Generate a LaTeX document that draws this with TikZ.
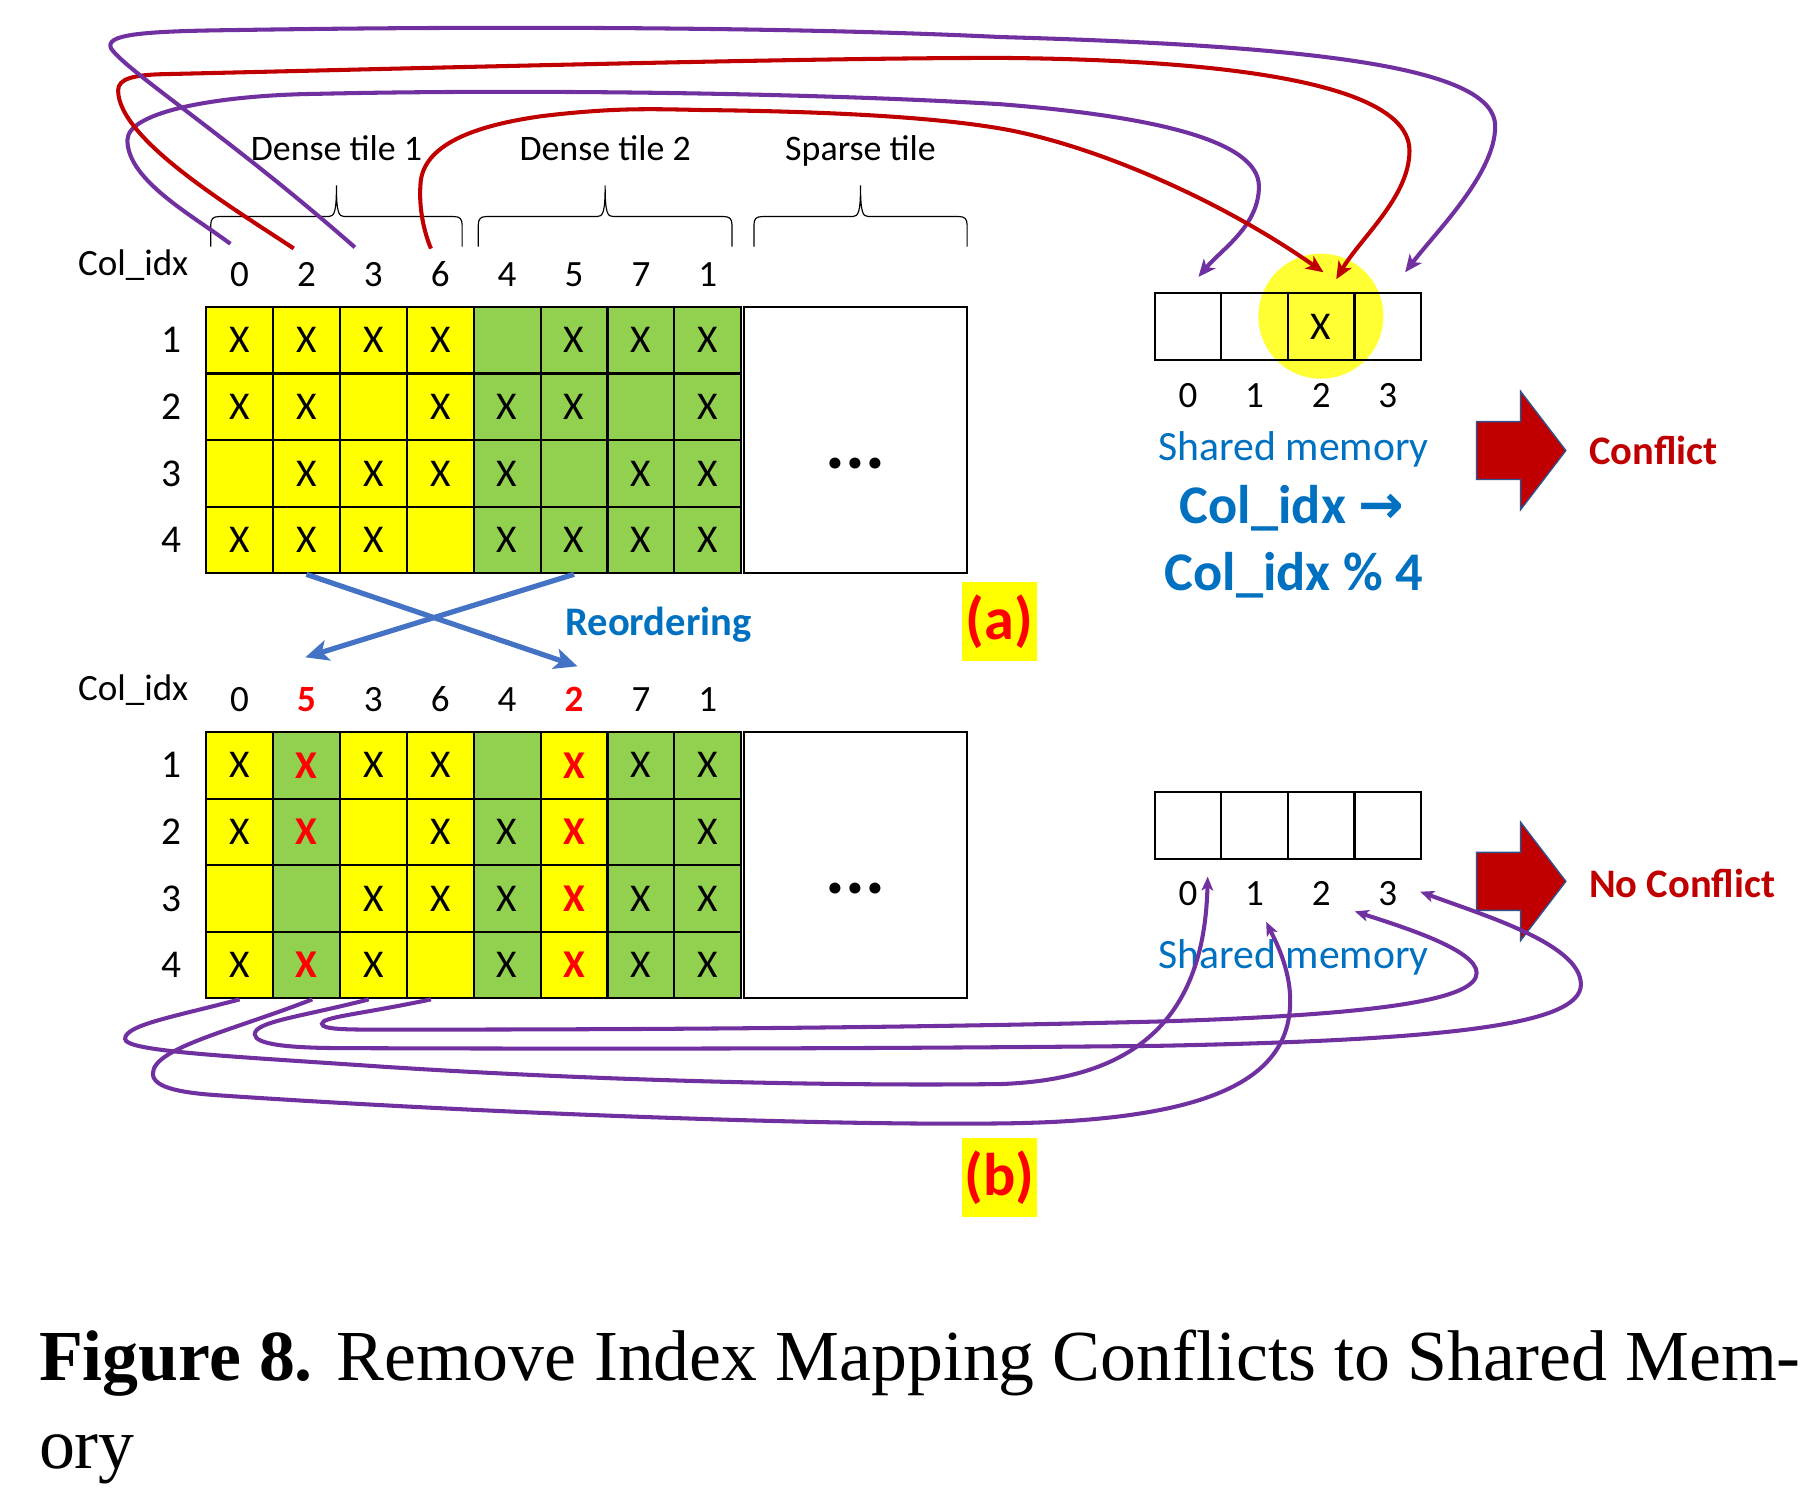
\documentclass[tikz,border=0pt]{standalone}
\usepackage{fontspec}
\setmainfont{Carlito}
\newfontfamily\capfont{Liberation Serif}
\newfontfamily\symfont{DejaVu Sans}
\usetikzlibrary{arrows.meta,positioning}

\definecolor{tY}{HTML}{FFFF00}
\definecolor{tG}{HTML}{92D050}
\definecolor{xred}{HTML}{FF0000}
\definecolor{dred}{HTML}{C00000}
\definecolor{vio}{HTML}{7030A0}
\definecolor{mblue}{HTML}{0070C0}
\definecolor{rblue}{HTML}{4472C4}
\definecolor{aedge}{HTML}{2F528F}

\newcommand\cellmark[1]{\ifcase#1\or X\or\textbf{\textcolor{xred}{X}}\fi}
\newcommand\tilebrace[3]{%
  \pgfmathsetmacro\bm{(#1+#2)/2}
  \coordinate (#3) at (\bm,160);
  \draw[brc] (#1,213) -- (#1,194) .. controls (#1,189) and (#1+2,187) .. (#1+7,187)
    -- (\bm-7,187) .. controls (\bm-2,187) and (\bm,184) .. (#3)
    .. controls (\bm,184) and (\bm+2,187) .. (\bm+7,187)
    -- (#2-7,187) .. controls (#2-2,187) and (#2,189) .. (#2,194) -- (#2,213);}
\newcommand\blockarrow[1]{%
  \draw[bigarrow] (#1) ++(0,-25) -- ++(38,0) -- ++(0,-26) -- ++(39,51)
    -- ++(-39,51) -- ++(0,-26) -- ++(-38,0) -- cycle;}

\tikzset{
  cell/.style={draw, line width=1.8pt, minimum width=57.75pt, minimum height=57.5pt,
    inner sep=0pt, font=\fontsize{34}{34}\selectfont},
  idx/.style={inner sep=0pt, font=\fontsize{32}{32}\selectfont},
  slot/.style={draw, line width=1.8pt, minimum width=57.5pt, minimum height=58pt,
    inner sep=0pt, font=\fontsize{34}{34}\selectfont},
  sparse/.style={draw, fill=white, line width=1.8pt, minimum width=193pt,
    minimum height=230pt, inner sep=0pt},
  dots/.style={inner sep=0pt, font=\fontsize{64}{64}\selectfont\bfseries},
  brc/.style={line width=1pt},
  tilelabel/.style={anchor=base, inner sep=0pt, font=\fontsize{31}{31}\selectfont},
  map/.style={line width=3.5pt, -{Stealth[length=15pt,width=13pt,inset=4pt]}},
  mapb/.style={map, -{Stealth[length=12pt,width=10pt,inset=3pt]}},
  reorder/.style={rblue, line width=4.5pt, -{Stealth[length=20pt,width=18pt,inset=5pt]}},
  smem/.style={mblue, anchor=base, inner sep=0pt, font=\fontsize{36}{36}\selectfont},
  rule/.style={mblue, anchor=base, inner sep=0pt, font=\fontsize{47}{47}\selectfont\bfseries},
  verdict/.style={dred, anchor=base west, inner sep=0pt, font=\fontsize{35}{35}\selectfont\bfseries},
  tag/.style={fill=tY, text=xred, inner sep=0pt, minimum width=64pt, minimum height=68pt,
    font=\fontsize{52}{52}\selectfont\bfseries},
  bigarrow/.style={fill=dred, draw=aedge, line width=1.2pt},
  capt/.style={anchor=base west, inner sep=0pt, font=\capfont\fontsize{62}{76}\selectfont},
}

\begin{document}
\begin{tikzpicture}[x=1pt,y=-1pt]
\useasboundingbox[fill=white] (0,0) rectangle (1568,1292);

% (a) original column order
\node[idx, anchor=base] (cola) at (115,237.5) {Col\_idx};
\foreach \t [count=\c from 0] in {0,2,3,6,4,5,7,1}
  \node[idx, anchor=base] (ca-\c) at (206.875+57.75*\c,247.5) {\t};
\foreach \r/\cells in {1/{tY/1,tY/1,tY/1,tY/1,tG/0,tG/1,tG/1,tG/1},
                      2/{tY/1,tY/1,tY/0,tY/1,tG/1,tG/1,tG/0,tG/1},
                      3/{tY/0,tY/1,tY/1,tY/1,tG/1,tG/0,tG/1,tG/1},
                      4/{tY/1,tY/1,tY/1,tY/0,tG/1,tG/1,tG/1,tG/1}}{
  \node[idx, font=\fontsize{34}{34}\selectfont] (ra-\r) at (148,236.25+57.5*\r) {\r};
  \foreach \f/\v [count=\c from 0] in \cells
    \node[cell, fill=\f] (a-\r-\c) at (206.875+57.75*\c,236.25+57.5*\r) {\cellmark{\v}};
}
\node[sparse] (sp-a) at (738.5,380) {};
\node[dots] (dt-a) at (738.5,400) {...};

\tilebrace{182}{399}{bt1}
\tilebrace{413}{632}{bt2}
\tilebrace{651}{835}{bt3}
\node[tilelabel] (tl1) at ([yshift=21pt]bt1) {Dense tile 1};
\node[tilelabel] (tl2) at ([yshift=21pt]bt2) {Dense tile 2};
\node[tilelabel] (tl3) at ([yshift=21pt]bt3) {Sparse tile};

% shared memory, conflict case
\node[circle, fill=tY!80!white, minimum size=108pt, inner sep=0pt] (hl) at (1140.5,273) {};
\foreach \i in {0,...,3}{
  \node[slot] (sa-\i) at (1025.75+57.5*\i,282) {\ifnum\i=2 X\fi};
  \node[idx] (la-\i) at (1025.75+57.5*\i,341.5) {\i};
}
\node[smem] (sma) at (1117,398) {Shared memory};
\node[rule] (rl1) at (1115.5,452) {Col\_idx {\symfont →}};
\node[rule] (rl2) at (1117,509.5) {Col\_idx \% 4};
\coordinate (ka) at (1275,389);
\blockarrow{ka}
\node[verdict] (va) at (1372,401) {Conflict};
\node[tag] (ta) at (863,536.5) {(a)};

% (b) reordered columns
\node[idx, anchor=base] (colb) at (115,604.5) {Col\_idx};
\foreach \t [count=\c from 0] in {0,\textbf{\textcolor{xred}{5}},3,6,4,\textbf{\textcolor{xred}{2}},7,1}
  \node[idx, anchor=base] (cb-\c) at (206.875+57.75*\c,614.5) {\t};
\foreach \r/\cells in {1/{tY/1,tG/2,tY/1,tY/1,tG/0,tY/2,tG/1,tG/1},
                      2/{tY/1,tG/2,tY/0,tY/1,tG/1,tY/2,tG/0,tG/1},
                      3/{tY/0,tG/0,tY/1,tY/1,tG/1,tY/2,tG/1,tG/1},
                      4/{tY/1,tG/2,tY/1,tY/0,tG/1,tY/2,tG/1,tG/1}}{
  \node[idx, font=\fontsize{34}{34}\selectfont] (rb-\r) at (148,603.25+57.5*\r) {\r};
  \foreach \f/\v [count=\c from 0] in \cells
    \node[cell, fill=\f] (b-\r-\c) at (206.875+57.75*\c,603.25+57.5*\r) {\cellmark{\v}};
}
\node[sparse] (sp-b) at (738.5,747) {};
\node[dots] (dt-b) at (738.5,767) {...};

\draw[reorder] (a-4-1.south) -- ([xshift=3pt,yshift=18pt]cb-5.north);
\draw[reorder] (a-4-5.south) -- ([xshift=-1pt,yshift=26pt]cb-1.north);
\node[rule, font=\fontsize{35}{35}\selectfont\bfseries] (ro) at (568.5,548.5) {Reordering};

% shared memory, no conflict
\foreach \i in {0,...,3}{
  \node[slot] (sb-\i) at (1025.75+57.5*\i,713) {};
  \node[idx] (lb-\i) at (1025.75+57.5*\i,771.5) {\i};
}
\node[smem] (smb) at (1117,836.5) {Shared memory};
\coordinate (kb) at (1275,761);
\blockarrow{kb}
\node[verdict] (vb) at (1372,774.5) {No Conflict};
\node[tag] (tb) at (863,1016.5) {(b)};

% index mapping, before reordering
\draw[map, vio] ([xshift=-8pt,yshift=16pt]ca-0.north) .. controls (168,187) and (110,156) .. (110,121)
  .. controls (110,96) and (190,82) .. (275,81)
  .. controls (450,77) and (700,80) .. (864,90)
  .. controls (990,100) and (1087,120) .. (1087,161)
  .. controls (1087,195) and (1055,215) .. ([xshift=9pt,yshift=13pt]sa-0.north);
\draw[map, dred] ([xshift=-11pt,yshift=12pt]ca-1.north) .. controls (200,179) and (102,120) .. (102,78)
  .. controls (102,68) and (115,64.5) .. (143,64)
  .. controls (400,58) and (700,50) .. (864,50)
  .. controls (1100,52) and (1217,80) .. (1217,130)
  .. controls (1217,170) and (1175,205) .. ([xshift=13pt,yshift=11pt]sa-2.north);
\draw[map, vio] ([xshift=-16pt,yshift=13pt]ca-2.north) .. controls (200,120) and (110,62) .. (96,42)
  .. controls (90,30) and (120,27) .. (200,26)
  .. controls (450,22) and (700,24) .. (864,32)
  .. controls (1150,40) and (1291,60) .. (1291,109)
  .. controls (1291,150) and (1240,200) .. ([xshift=15pt,yshift=17pt]sa-3.north);
\draw[map, dred] ([xshift=-8pt,yshift=11pt]ca-3.north) .. controls (364,195) and (362,175) .. (363,160)
  .. controls (364,125) and (410,108) .. (470,100)
  .. controls (530,93) and (560,94) .. (606,95)
  .. controls (700,96) and (800,100) .. (864,111)
  .. controls (940,124) and (1050,170) .. ([xshift=2pt,yshift=17pt]sa-2.north);

% index mapping, after reordering
\draw[mapb, vio] (b-4-0.south) .. controls (150,878) and (108,885) .. (108,897)
  .. controls (108,908) and (200,912) .. (330,921)
  .. controls (500,932) and (700,938) .. (864,936)
  .. controls (980,932) and (1040,880) .. ([xshift=17pt,yshift=-14pt]sb-0.south);
\draw[mapb, vio] ([xshift=5pt]b-4-1.south) .. controls (200,890) and (132,905) .. (132,927)
  .. controls (132,940) and (160,944) .. (193,946)
  .. controls (400,960) and (700,972) .. (864,970)
  .. controls (1050,968) and (1114,930) .. (1114,864)
  .. controls (1114,835) and (1100,810) .. ([xshift=10pt,yshift=-53pt]sb-1.south);
\draw[mapb, vio] ([xshift=-4pt]b-4-2.south) .. controls (260,878) and (220,882) .. (220,893)
  .. controls (220,902) and (250,905) .. (300,905)
  .. controls (600,906) and (800,905) .. (1000,903)
  .. controls (1250,898) and (1365,885) .. (1365,850)
  .. controls (1365,815) and (1280,790) .. ([xshift=28pt,yshift=-27pt]sb-3.south);
\draw[mapb, vio] ([xshift=-8pt]b-4-3.south) .. controls (310,876) and (278,878) .. (278,884)
  .. controls (278,889) and (300,889) .. (330,889)
  .. controls (600,889) and (800,887) .. (1000,882)
  .. controls (1200,876) and (1275,862) .. (1275,840)
  .. controls (1275,820) and (1210,800) .. ([xshift=29pt,yshift=-44pt]sb-2.south);

% caption
\node[capt] (cap-1) at (33.5,1192) {\textbf{Figure 8.} Remove Index Mapping Conflicts to Shared Mem-};
\node[capt] (cap-2) at ([yshift=-76pt]cap-1.base west) {ory};
\end{tikzpicture}
\end{document}
